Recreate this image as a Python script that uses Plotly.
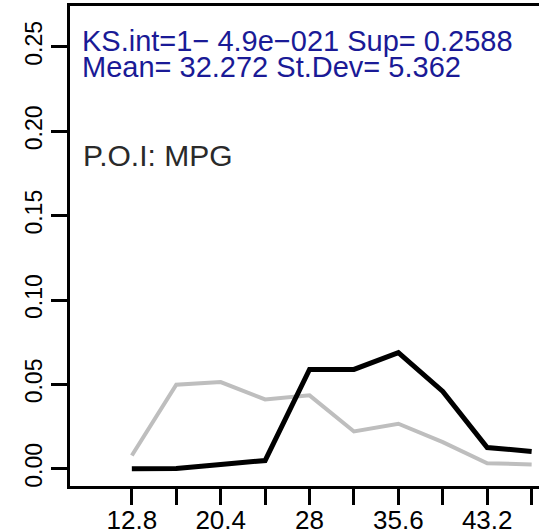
import plotly.graph_objects as go

# Data
x_vals = [12.8, 16.6, 20.4, 24.2, 28.0, 31.8, 35.6, 39.4, 43.2, 47.0]
black_series = [0.0, 0.0002, 0.0026, 0.0049, 0.0589, 0.0589, 0.0688, 0.0458, 0.0126, 0.0103]
gray_series = [0.0079, 0.0498, 0.0514, 0.0411, 0.0435, 0.0221, 0.0267, 0.0158, 0.0033, 0.0026]
x_tick_vals = [12.8, 16.6, 20.4, 24.2, 28.0, 31.8, 35.6, 39.4, 43.2, 47.0]
x_tick_text = ["12.8", "", "20.4", "", "28", "", "35.6", "", "43.2", ""]
y_tick_vals = [0.0, 0.05, 0.10, 0.15, 0.20, 0.25]
y_tick_text = ["0.00", "0.05", "0.10", "0.15", "0.20", "0.25"]
ks_line = "KS.int=1\u2212 4.9e\u2212021 Sup= 0.2588"
mean_line = "Mean= 32.272 St.Dev= 5.362"
poi_line = "P.O.I: MPG"

W, H = 539, 529
ml, mr, mt, mb = 70, 0, 6, 43
ph = H - mt - mb

def py(ypx):
    return (H - mb - ypx) / ph

def px(xpx):
    return (xpx - ml) / (W - ml - mr)

fig = go.Figure()
fig.add_trace(go.Scatter(x=x_vals, y=gray_series, mode="lines",
                         line=dict(color="#bebebe", width=4), showlegend=False))
fig.add_trace(go.Scatter(x=x_vals, y=black_series, mode="lines",
                         line=dict(color="black", width=5), showlegend=False))

fig.update_layout(
    width=W, height=H,
    margin=dict(l=ml, r=mr, t=mt, b=mb, pad=0),
    paper_bgcolor="white", plot_bgcolor="white",
    font=dict(family="Liberation Sans, Arial, sans-serif", color="black"),
    xaxis=dict(range=[7.51, 47.63], tickmode="array", tickvals=x_tick_vals,
               ticktext=x_tick_text, ticks="outside", ticklen=16, tickwidth=2.5,
               tickcolor="black", showline=True, linecolor="black", linewidth=3,
               mirror=True, showgrid=False, zeroline=False, ticklabelstandoff=-7,
               tickfont=dict(size=26, color="black"), automargin=False),
    yaxis=dict(range=[-0.0102, 0.2742], tickmode="array", tickvals=y_tick_vals,
               ticktext=y_tick_text, ticks="outside", ticklen=16, tickwidth=2.5,
               tickcolor="black", showline=True, linecolor="black", linewidth=3,
               showgrid=False, zeroline=False, tickangle=-90,
               tickfont=dict(size=23, color="black"), automargin=False),
)

fig.add_annotation(text=ks_line, xref="paper", yref="paper", x=px(80), y=py(41),
                   xanchor="left", yanchor="middle", showarrow=False,
                   font=dict(size=29, color="#1a1a96"))
fig.add_annotation(text=mean_line, xref="paper", yref="paper", x=px(80), y=py(67),
                   xanchor="left", yanchor="middle", showarrow=False,
                   font=dict(size=29, color="#1a1a96"))
fig.add_annotation(text=poi_line, xref="paper", yref="paper", x=px(81), y=py(155),
                   xanchor="left", yanchor="middle", showarrow=False,
                   font=dict(size=30, color="#2a2a2a"))

fig.write_html("out.html")
